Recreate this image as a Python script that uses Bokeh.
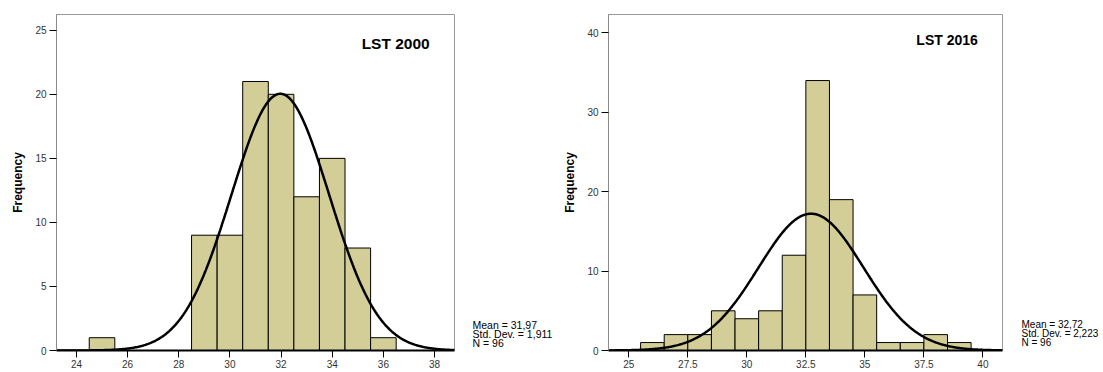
import numpy as np
from bokeh.plotting import figure
from bokeh.layouts import row
from bokeh.models import Range1d, Label, FixedTicker, ColumnDataSource
from bokeh.core.properties import value
from bokeh.embed import file_html
from bokeh.resources import INLINE

# ---------------- data ----------------
bins_2000 = [25, 29, 30, 31, 32, 33, 34, 35, 36]
counts_2000 = [1, 9, 9, 21, 20, 12, 15, 8, 1]
mean_2000 = 31.97
sd_2000 = 1.911
n_2000 = 96

bins_2016 = [26, 27, 28, 29, 30, 31, 32, 33, 34, 35, 36, 37, 38, 39]
counts_2016 = [1, 2, 2, 5, 4, 5, 12, 34, 19, 7, 1, 1, 2, 1]
mean_2016 = 32.72
sd_2016 = 2.223
n_2016 = 96

bin_width = 1.0

xticks_2000 = [24, 26, 28, 30, 32, 34, 36, 38]
xlabels_2000 = ["24", "26", "28", "30", "32", "34", "36", "38"]
yticks_2000 = [0, 5, 10, 15, 20, 25]

xticks_2016 = [25, 27.5, 30, 32.5, 35, 37.5, 40]
xlabels_2016 = ["25", "27.5", "30", "32.5", "35", "37.5", "40"]
yticks_2016 = [0, 10, 20, 30, 40]

FONT = "Liberation Sans"
BAR = "#d3ce97"
H = 372
TOP = 14      # frame top border (px)
BOT = 22      # frame bottom border (px)
FRAME_H = H - TOP - BOT


def stats_lines(mean, sd, n):
    return ["Mean = " + f"{mean:.2f}".replace(".", ","),
            "Std. Dev. = " + f"{sd:.3f}".replace(".", ","),
            "N = " + str(n)]


def make_hist(title, bins, counts, mean, sd, n, xr, yr, xticks, xlabels, yticks,
              width, bl, br, title_pos, title_size):
    p = figure(width=width, height=H, output_backend="svg", toolbar_location=None,
               x_range=Range1d(*xr), y_range=Range1d(*yr),
               min_border_left=bl, min_border_right=br, min_border_top=TOP,
               min_border_bottom=BOT)
    p.xgrid.visible = False
    p.ygrid.visible = False
    p.outline_line_color = "#9a9a9a"
    p.outline_line_width = 1
    p.background_fill_color = "white"
    p.border_fill_color = "white"

    lefts = [c - bin_width / 2 for c in bins]
    rights = [c + bin_width / 2 for c in bins]
    p.quad(left=lefts, right=rights, bottom=0, top=counts,
           fill_color=BAR, line_color="black", line_width=1)

    # fitted normal curve defined by the chart's own Mean / Std. Dev. / N
    xs = np.linspace(xr[0], xr[1], 400)
    ys = n * bin_width * np.exp(-0.5 * ((xs - mean) / sd) ** 2) / (sd * np.sqrt(2 * np.pi))
    p.line(xs, ys, line_color="black", line_width=2.5)

    p.xaxis.ticker = FixedTicker(ticks=xticks)
    p.xaxis.major_label_overrides = {t: l for t, l in zip(xticks, xlabels)}
    p.yaxis.ticker = FixedTicker(ticks=yticks)
    for ax in (p.xaxis, p.yaxis):
        ax.minor_tick_line_color = None
        ax.major_tick_in = 0
        ax.major_tick_line_color = "black"
        ax.major_label_text_font = FONT
        ax.major_label_text_font_size = "10px"
        ax.major_label_text_color = "#333333"
    p.xaxis.major_tick_out = 7
    p.xaxis.major_label_standoff = 2
    p.xaxis.axis_line_color = "black"
    p.xaxis.axis_line_width = 2
    p.yaxis.major_tick_out = 7
    p.yaxis.major_label_standoff = 3
    p.yaxis.axis_line_color = "#8a8a8a"
    p.yaxis.axis_label = "Frequency"
    p.yaxis.axis_label_text_font = FONT
    p.yaxis.axis_label_text_font_style = "bold"
    p.yaxis.axis_label_text_font_size = "12px"
    p.yaxis.axis_label_text_color = "black"
    p.yaxis.axis_label_standoff = 7

    p.add_layout(Label(x=title_pos[0], y=title_pos[1], text=title,
                       text_font=FONT, text_font_style="bold",
                       text_font_size=title_size, text_color="black",
                       text_baseline="alphabetic"))
    return p


def make_stats(mean, sd, n, width, x0, y_centers, size):
    # frame of this panel is aligned with the neighbouring histogram frame,
    # so y is measured in px above the frame bottom (page y = H - BOT)
    s = figure(width=width, height=H, output_backend="svg", toolbar_location=None,
               x_range=Range1d(0, width), y_range=Range1d(0, FRAME_H),
               x_axis_location=None, y_axis_location=None,
               min_border_left=0, min_border_right=0, min_border_top=TOP,
               min_border_bottom=BOT)
    s.xgrid.visible = False
    s.ygrid.visible = False
    s.outline_line_color = None
    src = ColumnDataSource(dict(x=[x0] * 3, y=[(H - BOT) - c for c in y_centers],
                                t=stats_lines(mean, sd, n)))
    s.text(x="x", y="y", text="t", source=src, text_font=value(FONT),
           text_font_size=size, text_color="black", text_baseline="middle",
           text_align="left")
    return s


p1 = make_hist("LST 2000", bins_2000, counts_2000, mean_2000, sd_2000, n_2000,
               (23.22, 38.78), (0, 26.23), xticks_2000, xlabels_2000, yticks_2000,
               456, 56, 2, (35.15, 23.97), "15.5px")
s1 = make_stats(mean_2000, sd_2000, n_2000, 104, 16, [324, 333, 342], "10.5px")
p2 = make_hist("LST 2016", bins_2016, counts_2016, mean_2016, sd_2016, n_2016,
               (24.14, 40.83), (0, 42.32), xticks_2016, xlabels_2016, yticks_2016,
               444, 47, 2, (37.18, 39.17), "14px")
s2 = make_stats(mean_2016, sd_2016, n_2016, 99, 17, [324, 333, 342], "10px")

layout = row(p1, s1, p2, s2)
open("out.html", "w").write(file_html(layout, INLINE))
